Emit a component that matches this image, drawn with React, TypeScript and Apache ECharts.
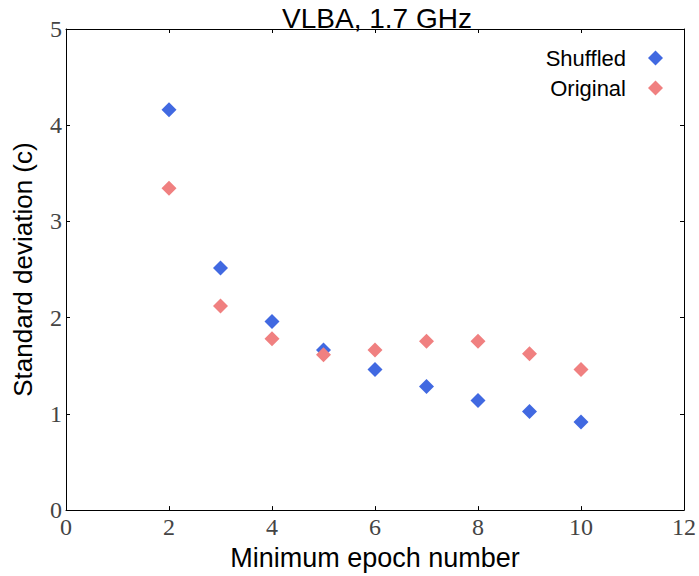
import React, { useEffect, useRef } from "react";
import * as echarts from "echarts";

const epochs = [2, 3, 4, 5, 6, 7, 8, 9, 10];
const shuffled = [4.16, 2.515, 1.96, 1.665, 1.46, 1.285, 1.14, 1.025, 0.915];
const original = [3.345, 2.12, 1.78, 1.615, 1.665, 1.755, 1.755, 1.625, 1.46];
const xTicks = [0, 2, 4, 6, 8, 10, 12];
const yTicks = [0, 1, 2, 3, 4, 5];

const BLUE = "#4169E1";
const PINK = "#F08080";

export default function App() {
  const ref = useRef<HTMLDivElement>(null);
  useEffect(() => {
    if (!ref.current) return;
    const chart = echarts.init(ref.current, undefined, { renderer: "svg" });
    const serif = "Liberation Serif";
    const sans = "Liberation Sans";
    const axisLine = { show: true, onZero: false, lineStyle: { color: "#000", width: 1 } };
    const tick = { show: true, inside: true, length: 4, lineStyle: { color: "#000", width: 1 } };
    chart.setOption({
      animation: false,
      backgroundColor: "#fff",
      title: {
        text: "VLBA, 1.7 GHz",
        left: 372,
        top: -1,
        textAlign: "center",
        textStyle: { fontFamily: sans, fontSize: 28, fontWeight: "normal", color: "#000" },
      },
      grid: { left: 66, right: 13, top: 29, bottom: 64, containLabel: false },
      legend: {
        right: 31,
        top: 42,
        orient: "vertical",
        align: "right",
        itemWidth: 15,
        itemHeight: 15,
        itemGap: 8,
        textStyle: { fontFamily: sans, fontSize: 22, color: "#000", padding: [0, 17, 0, 0] },
        data: [
          { name: "Shuffled", icon: "diamond" },
          { name: "Original", icon: "diamond" },
        ],
      },
      xAxis: [
        {
          type: "value",
          min: 0,
          max: 12,
          interval: 2,
          position: "bottom",
          name: "Minimum epoch number",
          nameLocation: "middle",
          nameGap: 31,
          nameTextStyle: { fontFamily: sans, fontSize: 27, color: "#000" },
          axisLine,
          axisTick: tick,
          splitLine: { show: false },
          axisLabel: {
            fontFamily: serif,
            fontSize: 24,
            color: "#444",
            margin: 5,
            customValues: xTicks,
          },
        },
        {
          type: "value",
          min: 0,
          max: 12,
          interval: 2,
          position: "top",
          axisLine,
          axisTick: tick,
          splitLine: { show: false },
          axisLabel: { show: false },
        },
      ],
      yAxis: [
        {
          type: "value",
          min: 0,
          max: 5,
          interval: 1,
          position: "left",
          name: "Standard deviation (c)",
          nameLocation: "middle",
          nameGap: 30,
          nameTextStyle: { fontFamily: sans, fontSize: 26, color: "#000" },
          axisLine,
          axisTick: tick,
          splitLine: { show: false },
          axisLabel: {
            fontFamily: serif,
            fontSize: 24,
            color: "#444",
            margin: 4,
            customValues: yTicks,
          },
        },
        {
          type: "value",
          min: 0,
          max: 5,
          interval: 1,
          position: "right",
          axisLine,
          axisTick: tick,
          splitLine: { show: false },
          axisLabel: { show: false },
        },
      ],
      series: [
        {
          name: "Shuffled",
          type: "scatter",
          symbol: "diamond",
          symbolSize: 15,
          itemStyle: { color: BLUE, opacity: 1 },
          data: epochs.map((e, i) => [e, shuffled[i]]),
          z: 2,
        },
        {
          name: "Original",
          type: "scatter",
          symbol: "diamond",
          symbolSize: 15,
          itemStyle: { color: PINK, opacity: 1 },
          data: epochs.map((e, i) => [e, original[i]]),
          z: 3,
        },
      ],
    });
    return () => chart.dispose();
  }, []);
  return <div ref={ref} style={{ width: 699, height: 576, position: "absolute", left: 0, top: 0 }} />;
}
